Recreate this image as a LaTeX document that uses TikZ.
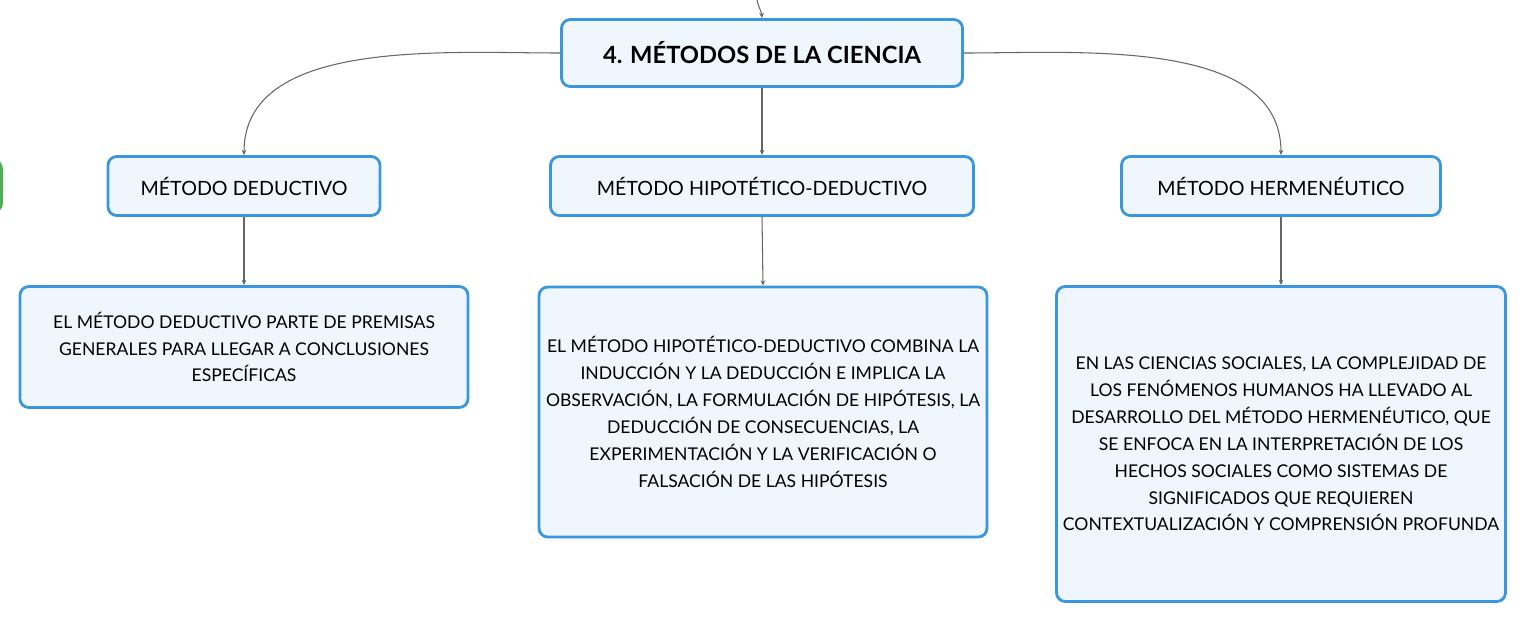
\documentclass[tikz,border=0pt]{standalone}
\usepackage{fontspec}
\setmainfont{Lato}
\usepackage{tikz}
\usetikzlibrary{arrows.meta,positioning,calc}
\definecolor{boxline}{HTML}{3A96DD}
\definecolor{boxfill}{HTML}{EFF6FD}
\definecolor{linkgray}{HTML}{666666}
\definecolor{sidegreen}{HTML}{4CAF50}

\begin{document}
\begin{tikzpicture}[x=0.02cm,y=-0.02cm,
  box/.style={draw=boxline,fill=boxfill,line width=1.6pt,rounded corners=5pt,
    align=center,inner sep=0pt,font=\fontsize{10}{15.3}\selectfont},
  methodbox/.style={box,font=\fontsize{11.2}{14}\selectfont},
  titlebox/.style={box,font=\fontsize{13.5}{16}\selectfont\bfseries},
  link/.style={draw=linkgray,line width=0.6pt,-{Stealth[length=3pt,width=2.6pt]}}]
\useasboundingbox (0,0) rectangle (1527,623);
% partial box at the left edge
\draw[sidegreen,line width=1.6pt,rounded corners=5pt] (-100,160) rectangle (1.5,212);
% main topic
\node[titlebox,minimum width=401*0.02cm,minimum height=67*0.02cm] (title) at (762,53) {4. MÉTODOS DE LA CIENCIA};
\coordinate (up) at (757,0);
% methods
\node[methodbox,minimum width=272*0.02cm,minimum height=59*0.02cm] (ded) at (244,186) {MÉTODO DEDUCTIVO};
\node[methodbox,minimum width=423*0.02cm,minimum height=59*0.02cm] (hip) at (762,186) {MÉTODO HIPOTÉTICO-DEDUCTIVO};
\node[methodbox,minimum width=319*0.02cm,minimum height=59*0.02cm] (her) at (1281,186) {MÉTODO HERMENÉUTICO};
% descriptions
\node[box,minimum width=448*0.02cm,minimum height=121*0.02cm] (dedtxt) at (244,347)
  {EL MÉTODO DEDUCTIVO PARTE DE PREMISAS\\GENERALES PARA LLEGAR A CONCLUSIONES\\ESPECÍFICAS};
\node[box,minimum width=448*0.02cm,minimum height=250*0.02cm] (hiptxt) at (763,412)
  {EL MÉTODO HIPOTÉTICO-DEDUCTIVO COMBINA LA\\INDUCCIÓN Y LA DEDUCCIÓN E IMPLICA LA\\OBSERVACIÓN, LA FORMULACIÓN DE HIPÓTESIS, LA\\DEDUCCIÓN DE CONSECUENCIAS, LA\\EXPERIMENTACIÓN Y LA VERIFICACIÓN O\\FALSACIÓN DE LAS HIPÓTESIS};
\node[box,minimum width=449*0.02cm,minimum height=315*0.02cm] (hertxt) at (1281,444)
  {EN LAS CIENCIAS SOCIALES, LA COMPLEJIDAD DE\\LOS FENÓMENOS HUMANOS HA LLEVADO AL\\DESARROLLO DEL MÉTODO HERMENÉUTICO, QUE\\SE ENFOCA EN LA INTERPRETACIÓN DE LOS\\HECHOS SOCIALES COMO SISTEMAS DE\\SIGNIFICADOS QUE REQUIEREN\\CONTEXTUALIZACIÓN Y COMPRENSIÓN PROFUNDA};
% connectors
\draw[link] (up) to[out=-80,in=95] (title.north);
\draw[link] (title.west) to[out=180,in=90,looseness=0.9] (ded.north);
\draw[link] (title.east) to[out=0,in=90,looseness=0.9] (her.north);
\draw[link] (title.south) -- (hip.north);
\draw[link] (ded.south) -- (dedtxt.north);
\draw[link] (hip.south) -- (hiptxt.north);
\draw[link] (her.south) -- (hertxt.north);
\end{tikzpicture}
\end{document}
